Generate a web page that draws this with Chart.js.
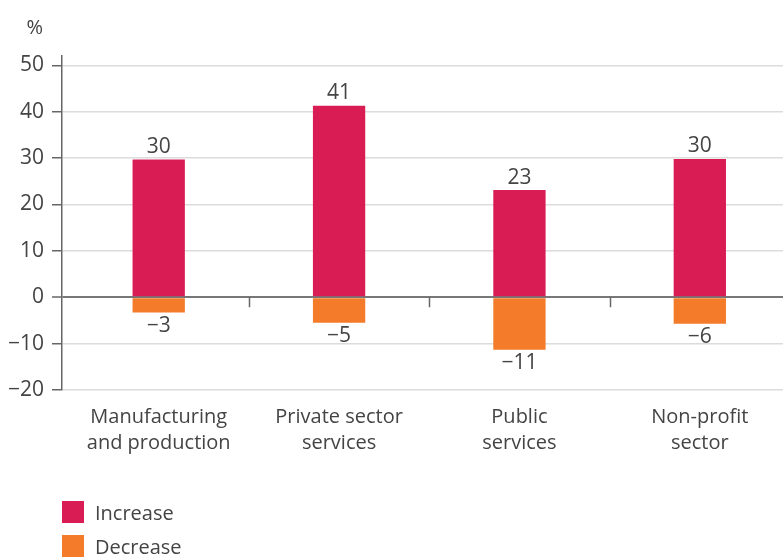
<!DOCTYPE html>
<html>
<head>
<meta charset="utf-8">
<script src="https://cdn.jsdelivr.net/npm/chart.js@4/dist/chart.umd.min.js"></script>
<style>
  html, body { margin: 0; padding: 0; background: #fff; }
  #wrap { position: relative; width: 783px; height: 557px; }
  #legend { position: absolute; left: 62px; top: 495px; font-family: "Open Sans", sans-serif; font-size: 20px; color: #444; }
  #legend .item { display: flex; align-items: center; height: 34px; }
  #legend .box { width: 22px; height: 22px; margin-right: 11px; }
</style>
</head>
<body>
<div id="wrap">
  <canvas id="sectorChart" width="783" height="557"></canvas>
  <div id="legend"></div>
</div>
<script>
const categories = [['Manufacturing', 'and production'], ['Private sector', 'services'], ['Public', 'services'], ['Non-profit', 'sector']];
const increaseValues = [29.7, 41.3, 23.1, 29.8];
const decreaseValues = [-3.3, -5.5, -11.3, -5.7];
const seriesNames = ['Increase', 'Decrease'];
const seriesColors = ['#DA1C55', '#F47B2A'];
const yTicks = [-20, -10, 0, 10, 20, 30, 40, 50];

const fontFamily = '"Open Sans", sans-serif';
const textColor = '#444';

function fmt(v) {
    return String(v).replace('-', '\u2212');
}

// categories start a little right of the y axis and run past the right edge
const shiftCategories = {
    id: 'shiftCategories',
    afterLayout(chart) {
        const x = chart.scales.x;
        x.left += 6.5;
        x.right += 7;
        x.configure();
    }
};

const valueLabels = {
    id: 'valueLabels',
    afterDatasetsDraw(chart) {
        const ctx = chart.ctx;
        ctx.save();
        ctx.font = '21px ' + fontFamily;
        ctx.fillStyle = textColor;
        ctx.textAlign = 'center';
        chart.data.datasets.forEach(function (ds, di) {
            const meta = chart.getDatasetMeta(di);
            meta.data.forEach(function (bar, i) {
                const v = ds.data[i];
                const label = fmt(Math.round(v));
                if (v >= 0) {
                    ctx.textBaseline = 'bottom';
                    ctx.fillText(label, bar.x, bar.y - 2);
                } else {
                    ctx.textBaseline = 'top';
                    ctx.fillText(label, bar.x, bar.y + 3);
                }
            });
        });
        ctx.restore();
    }
};

const axisExtras = {
    id: 'axisExtras',
    afterDraw(chart) {
        const ctx = chart.ctx;
        const x = chart.scales.x;
        const y = chart.scales.y;
        const zero = y.getPixelForValue(0);
        ctx.save();
        ctx.strokeStyle = '#666';
        ctx.lineWidth = 1.5;
        for (let i = 0; i < categories.length - 1; i++) {
            const bx = Math.round((x.getPixelForValue(i) + x.getPixelForValue(i + 1)) / 2) + 0.5;
            ctx.beginPath();
            ctx.moveTo(bx, zero);
            ctx.lineTo(bx, zero + 10);
            ctx.stroke();
        }
        ctx.font = '20px ' + fontFamily;
        ctx.fillStyle = textColor;
        ctx.textAlign = 'right';
        ctx.textBaseline = 'middle';
        ctx.fillText('%', chart.chartArea.left - 19, chart.chartArea.top - 28);
        ctx.restore();
    }
};

const chart = new Chart(document.getElementById('sectorChart').getContext('2d'), {
    type: 'bar',
    data: {
        labels: categories,
        datasets: [{
            label: seriesNames[0],
            data: increaseValues,
            backgroundColor: seriesColors[0]
        }, {
            label: seriesNames[1],
            data: decreaseValues,
            backgroundColor: seriesColors[1]
        }]
    },
    options: {
        responsive: false,
        animation: false,
        layout: { padding: { top: 56, left: 0, right: 0, bottom: 95 } },
        datasets: { bar: { barPercentage: 0.58, categoryPercentage: 0.5 } },
        scales: {
            x: {
                stacked: true,
                grid: { display: false },
                border: { display: false },
                ticks: {
                    color: textColor,
                    font: { family: fontFamily, size: 20, lineHeight: 1.3 },
                    padding: 6,
                    maxRotation: 0
                }
            },
            y: {
                stacked: true,
                min: -20,
                max: 52,
                afterBuildTicks: function (scale) {
                    scale.ticks = yTicks.map(function (v) { return { value: v }; });
                },
                border: { color: '#666', width: 1.5 },
                grid: {
                    color: function (c) { return c.tick && c.tick.value === 0 ? '#777' : '#dcdcdc'; },
                    lineWidth: function (c) { return c.tick && c.tick.value === 0 ? 2 : 1.5; },
                    tickLength: 10,
                    tickColor: '#666',
                    tickWidth: 1.5
                },
                ticks: {
                    color: textColor,
                    font: { family: fontFamily, size: 21 },
                    padding: 8,
                    callback: function (v) { return fmt(v); }
                }
            }
        },
        plugins: {
            legend: { display: false },
            tooltip: { enabled: false }
        }
    },
    plugins: [shiftCategories, valueLabels, axisExtras]
});

const legendEl = document.getElementById('legend');
chart.data.datasets.forEach(function (ds) {
    const item = document.createElement('div');
    item.className = 'item';
    const box = document.createElement('span');
    box.className = 'box';
    box.style.background = ds.backgroundColor;
    const txt = document.createElement('span');
    txt.textContent = ds.label;
    item.appendChild(box);
    item.appendChild(txt);
    legendEl.appendChild(item);
});
</script>
</body>
</html>
